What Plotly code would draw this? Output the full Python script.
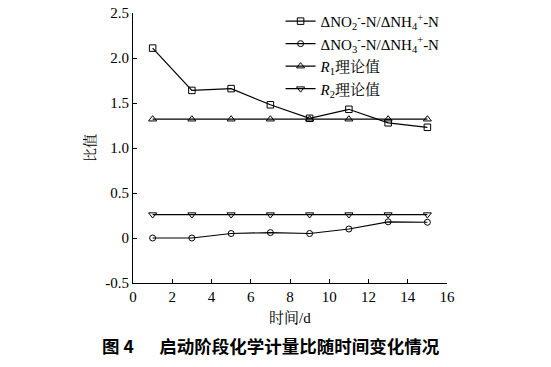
import plotly.graph_objects as go

days = [1, 3, 5, 7, 9, 11, 13, 15]
no2_nh4 = [2.11, 1.64, 1.66, 1.48, 1.33, 1.43, 1.28, 1.23]
no3_nh4 = [0.0, 0.0, 0.05, 0.06, 0.05, 0.10, 0.18, 0.175]
r1_theory = [1.32] * 8
r2_theory = [0.26] * 8

names = [
    "ΔNO<sub>2</sub><sup>-</sup>-N/ΔNH<sub>4</sub><sup>+</sup>-N",
    "ΔNO<sub>3</sub><sup>-</sup>-N/ΔNH<sub>4</sub><sup>+</sup>-N",
    "<i>R</i><sub>1</sub>理论值",
    "<i>R</i><sub>2</sub>理论值",
]
symbols = ["square-open", "circle-open", "triangle-up-open", "triangle-down-open"]
sizes = [6.5, 6, 7, 7]
series = [no2_nh4, no3_nh4, r1_theory, r2_theory]

fig = go.Figure()
for nm, ys, sym, sz in zip(names, series, symbols, sizes):
    fig.add_trace(go.Scatter(
        x=days, y=ys, name=nm, mode="lines+markers",
        line=dict(color="black", width=1.2),
        marker=dict(symbol=sym, size=sz, color="black", line=dict(width=1, color="black")),
    ))

serif = "Liberation Serif, Times New Roman, serif"
cjk_serif = "Liberation Serif, Noto Serif CJK SC, Noto Sans CJK SC"
fig.update_layout(
    width=551, height=367,
    margin=dict(l=133, r=104, t=13, b=84, autoexpand=False),
    paper_bgcolor="white", plot_bgcolor="white",
    font=dict(family=serif, size=15, color="black"),
    showlegend=True,
    legend=dict(x=0.47, y=1.03, xanchor="left", yanchor="top",
                bgcolor="rgba(0,0,0,0)", itemwidth=30,
                font=dict(family=cjk_serif, size=15),
                tracegroupgap=0),
    xaxis=dict(range=[0, 16], tickvals=list(range(0, 17, 2)),
               showgrid=False, zeroline=False, showline=True, linecolor="black", linewidth=1.2,
               ticks="inside", ticklen=4, tickcolor="black", automargin=False),
    yaxis=dict(range=[-0.5, 2.5], tickvals=[-0.5, 0, 0.5, 1.0, 1.5, 2.0, 2.5],
               ticktext=["-0.5", "0", "0.5", "1.0", "1.5", "2.0", "2.5"],
               showgrid=False, zeroline=False, showline=True, linecolor="black", linewidth=1.2,
               ticks="inside", ticklen=4, tickcolor="black", automargin=False),
)
fig.add_annotation(
    text="时间/d", xref="paper", yref="paper", x=0.5, y=-0.13,
    xanchor="center", yanchor="middle", showarrow=False,
    font=dict(family=cjk_serif, size=15, color="black"),
)
fig.add_annotation(
    text="比值", xref="paper", yref="paper", x=-0.137, y=0.5, textangle=-90,
    xanchor="center", yanchor="middle", showarrow=False,
    font=dict(family=cjk_serif, size=14, color="black"),
)
fig.add_annotation(
    text="<b>图 4 　 启动阶段化学计量比随时间变化情况</b>",
    xref="paper", yref="paper", x=0.44, y=-0.23, xanchor="center", yanchor="middle",
    showarrow=False, font=dict(family="Noto Sans CJK SC", size=17.5, color="black"),
)
fig.write_html("out.html", config={"displayModeBar": False},
               post_script="document.body.style.margin='0';")
